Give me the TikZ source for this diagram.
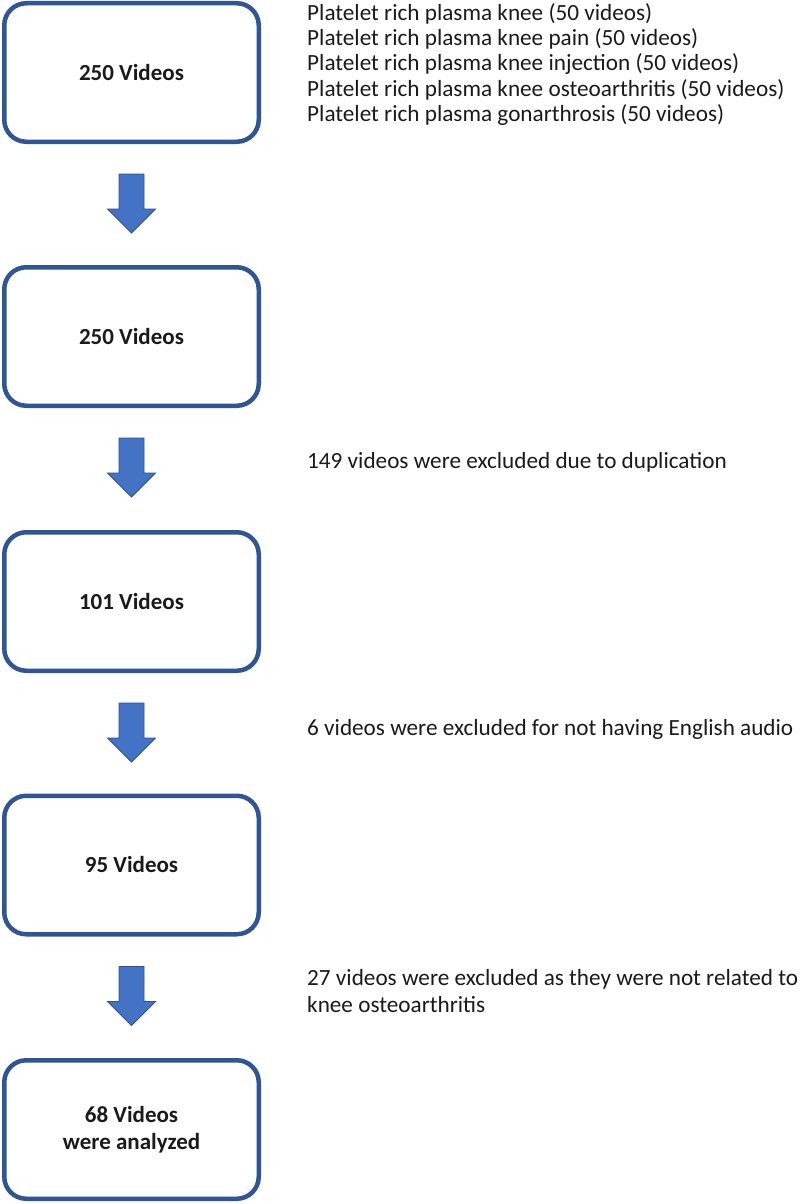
\documentclass[tikz,border=0pt]{standalone}
\usepackage{fontspec}
\setmainfont{Carlito}
\usetikzlibrary{calc}
\definecolor{boxblue}{HTML}{2F5597}
\definecolor{arrowfill}{HTML}{4472C4}
\definecolor{arrowline}{HTML}{2F528F}
\definecolor{txt}{HTML}{1A1A1A}
\begin{document}
\begin{tikzpicture}[x=1pt,y=-1pt,
  flowbox/.style={draw=boxblue, line width=4.5pt, rounded corners=22pt, fill=white,
    minimum width=254.5pt, minimum height=138.5pt, inner sep=0pt, align=center,
    font=\fontsize{23}{26}\selectfont\bfseries, text=txt},
  sidenote/.style={anchor=base west, align=left, inner sep=0pt,
    font=\fontsize{23.2}{25.3}\selectfont, text=txt},
  blockarrow/.style={fill=arrowfill, draw=arrowline, line width=0.8pt, line join=miter}]
\useasboundingbox (0,0) rectangle (800,1204);
\node[flowbox] (b1) at (131.5,72.5) {250 Videos};
\node[flowbox] (b2) at (131.5,336.5) {250 Videos};
\node[flowbox] (b3) at (131.5,601.5) {101 Videos};
\node[flowbox] (b4) at (131.5,865) {95 Videos};
\node[flowbox] (b5) at (131.5,1129.5) {68 Videos\\[1pt]were analyzed};
\foreach \a/\b in {b1/b2,b2/b3,b3/b4,b4/b5}{
  \draw[blockarrow] ($(\a.south)+(-12.5,30)$) -- ($(\a.south)+(12.5,30)$)
    -- ($(\a.south)+(12.5,65)$) -- ($(\a.south)+(24,65)$)
    -- ($(\a.south)+(0,89)$) -- ($(\a.south)+(-24,65)$)
    -- ($(\a.south)+(-12.5,65)$) -- cycle;
}
% multi-line notes: base anchor sits on the last line
\node[sidenote] (n1) at (307,121.5) {Platelet rich plasma knee (50 videos)\\
Platelet rich plasma knee pain (50 videos)\\
Platelet rich plasma knee injection (50 videos)\\
Platelet rich plasma knee osteoarthritis (50 videos)\\
Platelet rich plasma gonarthrosis (50 videos)};
\node[sidenote] (n2) at (307,468) {149 videos were excluded due to duplication};
\node[sidenote] (n3) at (307,735) {6 videos were excluded for not having English audio};
\node[sidenote, font=\fontsize{23.2}{27}\selectfont] (n4) at (307,1012) {27 videos were excluded as they were not related to\\knee osteoarthritis};
\end{tikzpicture}
\end{document}
